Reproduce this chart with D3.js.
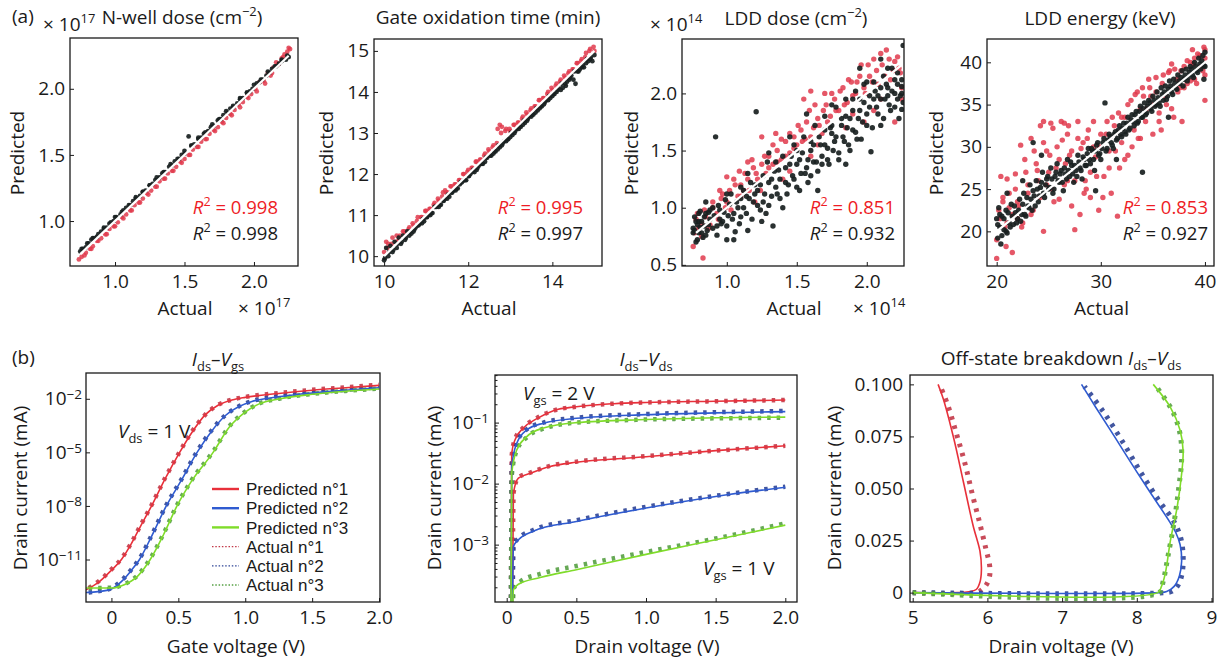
<!DOCTYPE html>
<html><head><meta charset="utf-8">
<script src="https://cdn.jsdelivr.net/npm/d3@7"></script>
<style>body{margin:0;background:#fff}svg{font-family:"Open Sans",sans-serif}</style>
</head><body>
<svg id="chart" width="1225" height="659"></svg>
<script>
// ---------------- DATA ----------------
// (a) N-well dose (x1e17): actual vs predicted
const nwellActK = [0.75,0.77,0.79,0.81,0.83,0.85,0.87,0.9,0.92,0.94,0.97,0.99,1.01,1.04,1.06,1.08,1.11,1.13,1.15,1.18,1.2,1.22,1.25,1.27,1.29,1.32,1.34,1.36,1.39,1.41,1.43,1.46,1.48,1.5,1.53,1.55,1.57,1.6,1.62,1.64,1.67,1.69,1.71,1.74,1.76,1.78,1.81,1.83,1.85,1.88,1.9,1.92,1.95,1.97,1.99,2.02,2.04,2.06,2.09,2.11,2.13,2.16,2.18,2.2,2.23,2.25,
  0.76,0.8,0.84,0.88,0.92,0.96,1.0,1.05,1.1,1.15,1.2,1.25,1.3,1.35,1.4,1.45,1.5,1.55,1.6,1.65,1.7,1.75,1.8,1.85,1.9,1.95,2.0,2.05,2.1,2.15,2.2,2.24];
const nwellPredK = [0.77,0.79,0.8,0.83,0.86,0.87,0.88,0.92,0.94,0.95,0.99,1.0,1.03,1.05,1.08,1.1,1.12,1.15,1.17,1.19,1.22,1.23,1.27,1.28,1.31,1.33,1.36,1.37,1.41,1.42,1.45,1.47,1.5,1.51,1.64,1.57,1.58,1.62,1.63,1.66,1.68,1.71,1.72,1.76,1.77,1.8,1.82,1.85,1.86,1.89,1.92,1.93,1.97,1.98,2.0,2.04,2.05,2.07,2.1,2.12,2.15,2.17,2.19,2.21,2.22,2.24,
  0.79,0.83,0.87,0.9,0.95,0.98,1.03,1.07,1.12,1.18,1.22,1.27,1.33,1.37,1.43,1.47,1.53,1.57,1.63,1.67,1.73,1.77,1.83,1.87,1.93,1.97,2.03,2.07,2.13,2.17,2.22,2.25];
const nwellActR = [0.74,0.76,0.79,0.82,0.84,0.87,0.9,0.93,0.96,0.99,1.02,1.05,1.08,1.11,1.14,1.17,1.2,1.23,1.26,1.29,1.32,1.35,1.38,1.41,1.44,1.47,1.5,1.53,1.56,1.59,1.62,1.65,1.68,1.71,1.74,1.77,1.8,1.83,1.86,1.89,1.92,1.95,1.98,2.01,2.04,2.07,2.1,2.12,2.14,2.16,2.18,2.2,2.22,2.24,2.26,
  0.78,0.83,0.88,0.94,1.0,1.06,1.12,1.18,1.24,1.3,1.36,1.42,1.48,1.54,1.6,1.66,1.72,1.78,1.84,1.9,1.96,2.02,2.08,2.13,2.17,2.21,2.25];
const nwellPredR = [0.71,0.73,0.76,0.79,0.81,0.85,0.87,0.9,0.94,0.96,0.99,1.03,1.05,1.08,1.12,1.14,1.17,1.21,1.23,1.26,1.3,1.32,1.36,1.38,1.41,1.45,1.47,1.5,1.54,1.56,1.6,1.62,1.66,1.69,1.71,1.75,1.78,1.81,1.84,1.88,1.9,1.94,1.96,2.0,2.05,2.06,2.12,2.1,2.16,2.2,2.19,2.23,2.26,2.28,2.3,
  0.74,0.79,0.85,0.9,0.96,1.02,1.08,1.14,1.2,1.26,1.32,1.38,1.44,1.5,1.56,1.62,1.68,1.74,1.8,1.86,1.93,1.98,2.04,2.12,2.18,2.24,2.31];
const nwellFit = [0.75, 2.25];

// (a) Gate oxidation time (min)
const goxActK = [10.0,10.05,10.1,10.15,10.2,10.25,10.3,10.35,10.4,10.5,10.55,10.6,10.7,10.8,10.9,11.0,11.1,11.2,11.3,11.4,11.5,11.6,11.7,11.8,11.9,12.0,12.1,12.2,12.3,12.4,12.5,12.6,12.7,12.8,12.9,13.0,13.1,13.2,13.3,13.4,13.5,13.6,13.7,13.8,13.9,14.0,14.1,14.2,14.3,14.4,14.5,14.55,14.6,14.7,14.8,14.9,14.95,15.0,
  10.45,10.65,10.75,10.85,10.95,11.05,11.15,11.25,11.35,11.45,11.55,11.65,11.75,11.85,11.95,12.05,12.15,12.25,12.35,12.45,12.55,12.65,12.75,12.85,12.95,13.05,13.15,13.25,13.35,13.45,13.55,13.65,13.75,13.85,13.95,14.05,14.15,14.25,14.35,14.45,14.65,14.75,14.85,
  10.02,10.12,10.22,10.32,10.42,10.52,10.62,10.72,10.82,10.92,11.02,11.12,11.22,11.32,11.42,11.52,11.62,11.72,11.82,11.92,12.02,12.12,12.22,12.32,12.42,12.52,12.62,12.72,12.82,12.92,13.02,13.12,13.22,13.32,13.42,13.52,13.62,13.72,13.82,13.92,14.02,14.12,14.22,14.32,14.42,14.52,14.62,14.72,14.82,14.92];
const goxPredK = [9.9,10.2,10.0,10.25,10.1,10.35,10.2,10.45,10.3,10.4,10.6,10.5,10.6,10.75,10.8,10.95,11.0,11.2,11.2,11.35,11.4,11.55,11.6,11.75,11.85,11.95,12.05,12.1,12.25,12.3,12.45,12.5,12.6,12.7,12.8,12.9,13.0,13.1,13.2,13.3,13.4,13.5,13.6,13.7,13.8,13.9,14.0,14.05,14.2,14.3,14.3,14.2,14.5,14.6,14.7,14.8,14.75,14.9,
  10.5,10.55,10.7,10.8,10.85,11.0,11.05,11.2,11.25,11.4,11.45,11.6,11.65,11.8,11.85,12.0,12.05,12.2,12.25,12.4,12.45,12.55,12.65,12.8,12.85,12.95,13.1,13.15,13.25,13.4,13.45,13.55,13.65,13.8,13.85,13.95,14.1,14.1,14.25,14.4,14.55,14.6,14.75,
  9.95,10.1,10.15,10.3,10.35,10.45,10.6,10.65,10.75,10.9,10.95,11.05,11.2,11.25,11.35,11.5,11.55,11.65,11.8,11.85,11.95,12.1,12.15,12.25,12.4,12.45,12.55,12.7,12.75,12.85,13.0,13.05,13.15,13.3,13.35,13.45,13.6,13.65,13.75,13.9,13.95,14.05,14.2,14.15,14.35,14.5,14.5,14.65,14.8,14.85];
const goxActR = [10.0,10.05,10.1,10.2,10.3,10.35,10.45,10.5,10.6,10.7,10.8,10.9,11.0,11.1,11.2,11.3,11.4,11.45,11.5,11.6,11.7,11.8,11.9,12.0,12.1,12.2,12.3,12.4,12.5,12.6,12.7,12.75,12.8,12.9,13.0,13.1,13.2,13.3,13.4,13.5,13.6,13.7,13.8,13.9,14.0,14.1,14.2,14.3,14.4,14.5,14.6,14.7,14.8,14.9,15.0,
  10.08,10.18,10.28,10.38,10.48,10.58,10.68,10.78,10.88,10.98,11.08,11.18,11.28,11.38,11.48,11.58,11.68,11.78,11.88,11.98,12.08,12.18,12.28,12.38,12.48,12.58,12.68,12.78,12.88,12.98,13.08,13.18,13.28,13.38,13.48,13.58,13.68,13.78,13.88,13.98,14.08,14.18,14.28,14.38,14.48,14.58,14.68,14.78,14.88,14.98];
const goxPredR = [10.1,10.35,10.3,10.45,10.5,10.4,10.6,10.55,10.7,10.75,10.95,10.95,11.1,11.15,11.3,11.35,11.55,11.6,11.55,11.7,11.75,11.85,12.0,12.1,12.15,12.3,12.35,12.5,12.55,12.7,13.1,13.2,13.15,13.1,13.05,13.2,13.25,13.4,13.45,13.6,13.65,13.8,13.85,14.0,14.05,14.2,14.3,14.35,14.5,14.55,14.7,14.8,14.95,15.05,15.0,
  10.2,10.3,10.35,10.5,10.6,10.65,10.8,10.85,10.95,11.1,11.15,11.25,11.4,11.45,11.55,11.7,11.75,11.85,12.0,12.05,12.15,12.3,12.35,12.45,12.6,12.65,12.75,13.0,13.05,13.1,13.2,13.25,13.35,13.5,13.55,13.65,13.8,13.85,13.95,14.1,14.15,14.25,14.4,14.45,14.55,14.7,14.75,14.85,15.0,15.1];
const goxFit = [10, 15];

// (a) LDD dose (x1e14): [actual, predicted]
const lddDoseK = [[0.76,0.82],[0.77,0.92],[0.78,0.70],[0.79,0.85],[0.80,0.78],[0.81,0.97],[0.82,0.88],[0.83,0.74],[0.85,0.95],[0.86,0.80],[0.88,0.90],[0.9,1.0],[0.92,1.62],[0.93,0.84],[0.95,0.98],[0.97,0.88],[0.99,1.07],[1.0,0.72],[1.01,0.93],[1.03,1.12],[1.05,0.95],[1.07,1.05],[1.09,0.86],[1.1,1.18],[1.12,1.0],[1.14,1.10],[1.15,0.80],[1.17,1.22],[1.19,1.05],[1.21,1.84],[1.22,1.15],[1.24,0.98],[1.26,1.28],[1.27,1.12],[1.29,1.40],[1.3,1.02],[1.32,1.25],[1.33,0.84],[1.35,1.18],[1.37,1.33],[1.38,1.08],[1.4,1.45],[1.42,1.22],[1.43,1.12],[1.45,1.38],[1.47,1.28],[1.48,1.55],[1.5,1.18],[1.52,1.42],[1.53,1.30],[1.55,1.62],[1.57,1.35],[1.58,1.22],[1.6,1.50],[1.62,1.40],[1.63,1.72],[1.65,1.32],[1.67,1.55],[1.68,1.45],[1.7,1.80],[1.72,1.52],[1.73,1.38],[1.75,1.65],[1.77,1.58],[1.78,1.88],[1.8,1.48],[1.82,1.72],[1.83,1.62],[1.85,1.95],[1.87,1.55],[1.88,1.78],[1.9,1.68],[1.92,2.02],[1.93,1.60],[1.95,1.85],[1.97,1.75],[1.98,2.08],[2.0,1.82],[2.02,1.98],[2.03,1.49],[2.05,2.10],[2.07,1.88],[2.08,1.98],[2.1,1.72],[2.12,2.15],[2.13,1.95],[2.15,2.05],[2.17,1.85],[2.18,2.22],[2.2,2.0],[2.22,2.08],[2.23,1.78],[2.25,2.12],[2.26,1.92],[2.26,2.42],[2.25,2.0],[0.77,0.8],[0.8,0.88],[0.84,0.84],[0.87,0.96],[2.05,1.95],[2.1,2.05],[2.15,1.98],[2.2,2.12],[2.22,1.95],[1.95,1.95],[1.85,1.8],[1.75,1.72],[1.6,1.58],[1.1,1.08],[1.2,1.2],[0.95,0.9],
  [0.76,0.78],[0.78,0.88],[0.79,0.72],[0.81,0.83],[0.82,0.78],[0.84,0.92],[0.85,0.76],[0.87,0.85],[0.88,0.98],[0.9,0.82],[0.91,0.93],[0.93,0.76],[0.94,1.02],[0.96,0.86],[0.98,0.96],[1.0,0.84],[1.02,1.03],[1.04,0.9],[1.06,0.79],[1.08,1.0],[1.1,0.92],[1.12,1.15],[1.14,0.95],[1.16,1.08],[1.18,0.9],[1.2,1.12],[1.22,1.02],[1.24,1.2],[1.26,1.05],[1.28,0.95],[1.3,1.22],[1.32,1.1],[1.34,1.32],[1.36,1.12],[1.38,1.25],[1.4,1.0],[1.42,1.35],[1.44,1.2],[1.46,1.45],[1.48,1.25],[1.5,1.38],[1.52,1.15],[1.54,1.48],[1.56,1.3],[1.58,1.42],[1.6,1.28],[1.62,1.55],[1.64,1.4],[1.66,1.62],[1.68,1.38],[1.7,1.55],[1.72,1.42],[1.74,1.7],[1.76,1.5],[1.78,1.62],[1.8,1.42],[1.82,1.78],[1.84,1.58],[1.86,1.7],[1.88,1.5],[1.9,1.85],[1.92,1.66],[1.94,1.78],[1.96,1.6],[1.98,1.92],[2.0,1.72],[2.02,1.88],[2.04,1.7],[2.06,2.02],[2.08,1.82],[2.1,1.95],[2.12,1.78],[2.14,2.08],[2.16,1.9],[2.18,2.02],[2.2,1.88],[2.22,2.18],[2.24,1.98],[2.25,2.06],[2.25,1.86],[1.57,1.82],[1.45,1.62],[1.3,1.48],[1.15,1.3],[1.0,1.12],[0.85,1.05],[1.95,2.22],[2.1,2.3],[1.75,1.9],[1.65,1.15],[1.85,1.38],[1.25,0.88],[1.05,0.72],[2.0,2.1],[2.15,2.22],[0.8,0.95],[1.35,1.4],[1.5,1.5],[1.7,1.68],[1.9,1.95]];
const lddDoseR = [[0.76,0.66],[0.78,0.9],[0.8,0.82],[0.83,0.56],[0.85,0.92],[0.88,0.85],[0.9,1.0],[0.93,0.95],[0.96,1.08],[0.99,1.0],[1.02,1.15],[1.05,1.25],[1.08,1.1],[1.1,1.2],[1.13,1.3],[1.16,1.15],[1.19,1.35],[1.22,1.25],[1.25,1.38],[1.28,1.3],[1.3,1.45],[1.33,1.38],[1.36,1.5],[1.39,1.42],[1.42,1.58],[1.45,1.48],[1.48,1.62],[1.5,1.55],[1.53,1.68],[1.56,1.6],[1.59,1.85],[1.62,1.7],[1.65,1.78],[1.68,1.65],[1.71,1.9],[1.74,1.8],[1.77,1.95],[1.8,1.85],[1.83,2.05],[1.86,1.92],[1.89,2.1],[1.92,2.0],[1.95,2.15],[1.98,2.05],[2.01,2.25],[2.04,2.1],[2.07,2.2],[2.1,2.35],[2.13,2.15],[2.16,2.3],[2.19,2.2],[2.22,2.32],[2.24,2.18],[2.25,2.05],[1.98,1.75],[1.4,1.25],[1.2,1.05],[1.6,1.45],[1.0,1.27],[1.35,1.65],[2.2,1.75],[0.82,0.75],[1.15,1.4],[1.7,2.0],[1.9,1.82],[2.1,1.95],
  [0.77,0.78],[0.79,0.95],[0.82,0.86],[0.84,0.98],[0.87,0.82],[0.9,1.05],[0.94,0.9],[0.97,1.12],[1.0,1.05],[1.03,0.98],[1.06,1.2],[1.09,1.32],[1.12,1.15],[1.15,1.25],[1.18,1.42],[1.21,1.3],[1.24,1.15],[1.27,1.45],[1.3,1.35],[1.33,1.55],[1.36,1.4],[1.39,1.6],[1.42,1.45],[1.45,1.65],[1.48,1.52],[1.51,1.72],[1.54,1.58],[1.57,1.75],[1.6,1.62],[1.63,1.9],[1.66,1.72],[1.69,1.85],[1.72,1.75],[1.75,2.0],[1.78,1.85],[1.81,2.02],[1.84,1.9],[1.87,2.12],[1.9,1.98],[1.93,2.1],[1.96,2.25],[1.99,2.0],[2.02,2.15],[2.05,2.3],[2.08,2.08],[2.11,2.25],[2.14,2.38],[2.17,2.12],[2.2,2.28],[2.23,2.22],[1.25,1.62],[1.55,1.95],[1.45,1.32],[1.65,1.55],[1.85,1.7],[2.05,1.85],[2.25,1.95],[1.1,1.1],[0.95,1.15],[1.6,2.02]];
const lddDoseFit = [0.78, 2.25];

// (a) LDD energy (keV): [actual, predicted]
const lddEnK = [[20.0,21.5],[20.1,19.2],[20.2,22.8],[20.3,20.5],[20.4,18.5],[20.5,21.8],[20.7,20.2],[20.9,22.5],[21.0,19.8],[21.2,21.0],[21.4,23.2],[21.6,20.8],[21.8,22.2],[22.0,21.5],[22.2,23.8],[22.4,22.0],[22.6,24.5],[22.8,21.8],[23.0,23.0],[23.2,25.5],[23.4,22.5],[23.6,24.2],[23.8,26.0],[24.0,23.5],[24.2,25.2],[24.4,27.0],[24.6,24.0],[24.8,26.2],[25.0,25.0],[25.2,27.5],[25.4,24.5],[25.6,26.5],[25.8,28.0],[26.0,25.8],[26.2,27.2],[26.4,24.8],[26.6,26.8],[26.8,28.5],[27.0,26.5],[27.2,27.8],[27.4,25.8],[27.6,27.2],[27.8,29.0],[28.0,27.5],[28.2,26.2],[28.4,28.5],[28.6,27.8],[28.8,29.8],[29.0,28.0],[29.2,29.5],[29.4,27.2],[29.6,30.2],[29.8,29.0],[30.0,28.5],[30.2,30.5],[30.4,35.2],[30.6,29.8],[30.8,31.5],[31.0,30.5],[31.2,29.8],[31.4,31.8],[31.6,31.0],[31.8,32.5],[32.0,31.2],[32.2,32.8],[32.4,31.5],[32.6,33.5],[32.8,32.2],[33.0,33.8],[33.2,32.5],[33.4,34.2],[33.6,33.0],[33.8,34.8],[34.0,27.0],[34.0,33.5],[34.2,35.2],[34.4,34.0],[34.6,35.5],[34.8,34.5],[35.0,36.0],[35.2,34.8],[35.4,36.5],[35.6,35.2],[35.8,37.0],[36.0,35.5],[36.2,37.2],[36.4,36.0],[36.6,37.8],[36.8,36.5],[37.0,38.0],[37.2,37.0],[37.4,38.5],[37.6,37.5],[37.8,39.0],[38.0,38.0],[38.2,39.2],[38.4,38.2],[38.6,39.5],[38.8,38.5],[39.0,40.0],[39.2,39.0],[39.4,40.5],[39.6,39.2],[39.8,40.8],[40.0,39.5],[40.0,41.2],[39.9,38.0],[23.5,30.5],[24.3,29.0],[22.5,26.0],[29.5,24.8],[21.0,24.5],[31.5,28.5],[36.5,33.5],
  [20.1,20.8],[20.3,22.0],[20.5,19.5],[20.7,21.5],[20.9,20.0],[21.1,22.2],[21.3,20.5],[21.5,21.8],[21.7,23.0],[21.9,21.0],[22.1,22.5],[22.3,21.2],[22.5,23.2],[22.7,22.0],[22.9,24.0],[23.1,22.8],[23.3,23.8],[23.5,24.8],[23.7,23.0],[23.9,25.0],[24.1,24.2],[24.3,25.8],[24.5,24.5],[24.7,25.5],[24.9,26.5],[25.1,25.2],[25.3,26.2],[25.5,25.0],[25.7,27.0],[25.9,26.0],[26.1,26.8],[26.3,25.8],[26.5,27.5],[26.7,26.2],[26.9,27.2],[27.1,28.2],[27.3,26.8],[27.5,27.8],[27.7,26.5],[27.9,28.2],[28.1,27.2],[28.3,28.8],[28.5,27.8],[28.7,29.2],[28.9,28.5],[29.1,29.8],[29.3,28.5],[29.5,29.5],[29.7,30.5],[29.9,29.2],[30.1,29.8],[30.3,31.0],[30.5,29.5],[30.7,30.8],[30.9,31.2],[31.1,30.2],[31.3,31.5],[31.5,30.8],[31.7,32.0],[31.9,31.5],[32.1,32.2],[32.3,31.8],[32.5,32.8],[32.7,32.0],[32.9,33.2],[33.1,33.0],[33.3,33.8],[33.5,32.8],[33.7,34.2],[33.9,33.5],[34.1,34.5],[34.3,33.8],[34.5,34.8],[34.7,35.2],[34.9,34.2],[35.1,35.5],[35.3,35.0],[35.5,35.8],[35.7,34.8],[35.9,36.2],[36.1,36.5],[36.3,35.6],[36.5,36.8],[36.7,37.2],[36.9,36.2],[37.1,37.5],[37.3,36.8],[37.5,37.8],[37.7,38.2],[37.9,37.2],[38.1,38.5],[38.3,37.8],[38.5,38.8],[38.7,39.2],[38.9,38.2],[39.1,39.5],[39.3,38.8],[39.5,39.8],[39.7,40.2],[39.9,39.6]];
const lddEnR = [[20.0,16.8],[20.2,22.5],[20.4,26.5],[20.6,24.0],[20.8,20.5],[21.0,26.2],[21.2,22.8],[21.5,17.5],[21.8,25.0],[22.0,23.5],[22.3,30.2],[22.5,21.0],[22.8,27.0],[23.0,24.5],[23.3,31.0],[23.5,22.5],[23.8,28.0],[24.0,26.0],[24.2,32.5],[24.5,20.0],[24.8,29.5],[25.0,27.0],[25.2,32.8],[25.5,23.5],[25.8,30.0],[26.0,28.5],[26.2,33.0],[26.5,25.5],[26.8,31.5],[27.0,29.0],[27.2,23.0],[27.5,20.2],[27.8,31.0],[28.0,22.0],[28.3,30.5],[28.5,26.0],[28.8,32.0],[29.0,24.0],[29.3,30.0],[29.5,28.8],[29.8,22.5],[30.0,31.5],[30.3,26.5],[30.6,33.0],[31.0,24.5],[31.3,32.5],[31.6,21.8],[32.0,33.5],[32.3,28.5],[32.6,35.0],[33.0,30.0],[33.3,36.2],[33.6,31.0],[34.0,37.0],[34.3,33.0],[34.6,38.0],[35.0,31.5],[35.3,36.5],[35.6,34.0],[36.0,38.5],[36.3,35.0],[36.6,39.0],[37.0,33.5],[37.3,38.0],[37.6,37.0],[38.0,39.5],[38.3,37.5],[38.6,40.0],[39.0,38.0],[39.3,41.0],[39.6,39.5],[39.9,41.8],[40.0,35.5],[40.0,40.5],[37.8,33.0],[35.8,32.0],[33.8,34.5],[31.8,27.5],[30.8,29.5],[26.8,26.0],[25.3,25.0],[22.0,21.5],[21.0,21.0],[24.5,33.0],[26.5,32.8],[38.8,41.5],[36.8,39.8],[28.6,25.0],[34.8,36.0],
  [20.0,19.0],[20.3,21.5],[20.6,23.5],[20.9,18.2],[21.2,24.5],[21.5,22.0],[21.8,26.8],[22.1,23.0],[22.4,20.5],[22.7,28.5],[23.0,25.5],[23.3,22.0],[23.6,29.5],[23.9,27.2],[24.2,24.0],[24.5,30.5],[24.8,25.5],[25.1,29.0],[25.4,32.2],[25.7,27.5],[26.0,23.8],[26.3,30.8],[26.6,28.0],[26.9,32.5],[27.2,29.5],[27.5,26.0],[27.8,33.0],[28.1,29.8],[28.4,24.5],[28.7,31.0],[29.0,27.0],[29.3,33.0],[29.6,26.5],[29.9,30.0],[30.2,24.0],[30.5,31.5],[30.8,27.5],[31.1,33.5],[31.4,29.5],[31.7,34.0],[32.0,30.5],[32.3,33.5],[32.6,29.0],[32.9,35.5],[33.2,32.0],[33.5,36.5],[33.8,31.0],[34.1,36.0],[34.4,34.5],[34.7,37.0],[35.0,35.0],[35.3,38.2],[35.6,33.0],[35.9,37.5],[36.2,36.0],[36.5,38.8],[36.8,34.5],[37.1,39.2],[37.4,36.5],[37.7,39.0],[38.0,37.0],[38.3,40.2],[38.6,37.8],[38.9,39.8],[39.2,37.5],[39.5,40.8],[39.8,39.0],[40.0,41.5],[40.0,38.5],[39.0,40.5]];
const lddEnFit = [20, 40.1];

// (b) Ids-Vgs, Vds = 1 V: [Vgs (V), log10 Ids (mA)]
const idvgPred1 = [[-0.19,-12.7],[-0.1,-12.3],[0,-11.6],[0.075,-11.0],[0.15,-10.1],[0.22,-9.1],[0.3,-8.0],[0.4,-6.5],[0.51,-5.0],[0.6,-3.9],[0.7,-2.9],[0.8,-2.35],[0.91,-2.05],[1.0,-1.92],[1.25,-1.7],[1.5,-1.52],[1.75,-1.38],[2.0,-1.25]];
const idvgPred2 = [[-0.19,-12.85],[-0.1,-12.8],[0,-12.65],[0.08,-12.2],[0.15,-11.6],[0.21,-11.0],[0.3,-9.7],[0.41,-8.0],[0.52,-6.6],[0.64,-5.0],[0.75,-3.8],[0.85,-2.95],[0.95,-2.45],[1.05,-2.15],[1.16,-1.98],[1.4,-1.75],[1.7,-1.55],[2.0,-1.38]];
const idvgPred3 = [[-0.19,-12.6],[0,-12.6],[0.1,-12.4],[0.2,-11.9],[0.29,-11.0],[0.39,-9.6],[0.49,-8.0],[0.6,-6.6],[0.76,-5.0],[0.88,-3.6],[1.0,-2.75],[1.1,-2.3],[1.26,-2.0],[1.5,-1.75],[1.75,-1.58],[2.0,-1.45]];
const idvgAct1 = [[-0.17,-12.6],[-0.1,-12.25],[0,-11.55],[0.08,-10.9],[0.15,-10.05],[0.22,-9.05],[0.3,-7.95],[0.4,-6.45],[0.5,-5.1],[0.6,-3.85],[0.7,-2.9],[0.8,-2.33],[0.9,-2.05],[1.0,-1.9],[1.25,-1.68],[1.5,-1.5],[1.75,-1.36],[2.0,-1.22]];
const idvgAct2 = [[-0.17,-12.85],[-0.1,-12.78],[0,-12.6],[0.08,-12.15],[0.15,-11.55],[0.21,-10.95],[0.3,-9.65],[0.41,-7.95],[0.52,-6.55],[0.64,-4.95],[0.75,-3.75],[0.85,-2.93],[0.95,-2.43],[1.05,-2.13],[1.16,-1.96],[1.4,-1.73],[1.7,-1.53],[2.0,-1.36]];
const idvgAct3 = [[-0.17,-12.6],[0,-12.58],[0.1,-12.38],[0.2,-11.85],[0.29,-10.95],[0.39,-9.55],[0.49,-7.95],[0.6,-6.55],[0.76,-4.95],[0.88,-3.55],[1.0,-2.72],[1.1,-2.28],[1.26,-1.98],[1.5,-1.73],[1.75,-1.56],[2.0,-1.43]];

// (b) Ids-Vds: [Vds (V), log10 Ids (mA)] ; "Hi" = Vgs 2 V, "Lo" = Vgs 1 V
const idvdPredHi1 = [[0.03,-4.5],[0.036,-1.5],[0.06,-1.28],[0.12,-1.09],[0.22,-0.93],[0.34,-0.8],[0.5,-0.74],[0.77,-0.69],[1.0,-0.67],[1.5,-0.65],[2.0,-0.63]];
const idvdPredHi2 = [[0.03,-4.5],[0.036,-1.72],[0.072,-1.34],[0.144,-1.12],[0.263,-1.01],[0.5,-0.93],[1.0,-0.87],[1.5,-0.84],[2.0,-0.82]];
const idvdPredHi3 = [[0.03,-4.5],[0.036,-1.83],[0.072,-1.45],[0.144,-1.23],[0.263,-1.09],[0.5,-1.0],[1.0,-0.95],[1.5,-0.92],[2.0,-0.91]];
const idvdPredLo1 = [[0.04,-4.5],[0.048,-2.16],[0.084,-1.91],[0.17,-1.83],[0.31,-1.72],[0.5,-1.65],[1.0,-1.56],[1.5,-1.46],[2.0,-1.38]];
const idvdPredLo2 = [[0.04,-4.5],[0.048,-3.03],[0.084,-2.92],[0.19,-2.78],[0.5,-2.62],[1.0,-2.4],[1.5,-2.21],[2.0,-2.06]];
const idvdPredLo3 = [[0.04,-4.5],[0.048,-3.74],[0.084,-3.65],[0.24,-3.54],[0.5,-3.41],[1.0,-3.16],[1.5,-2.92],[2.0,-2.68]];
const idvdActHi1 = [[0.03,-4.5],[0.037,-1.52],[0.06,-1.27],[0.12,-1.08],[0.22,-0.92],[0.34,-0.8],[0.5,-0.74],[0.77,-0.69],[1.0,-0.67],[1.5,-0.65],[2.0,-0.63]];
const idvdActHi2 = [[0.03,-4.5],[0.037,-1.7],[0.072,-1.33],[0.144,-1.11],[0.263,-1.0],[0.5,-0.92],[1.0,-0.86],[1.5,-0.83],[2.0,-0.81]];
const idvdActHi3 = [[0.03,-4.5],[0.037,-1.85],[0.072,-1.46],[0.144,-1.24],[0.263,-1.1],[0.5,-1.0],[1.0,-0.95],[1.5,-0.93],[2.0,-0.92]];
const idvdActLo1 = [[0.04,-4.5],[0.05,-2.14],[0.084,-1.9],[0.17,-1.82],[0.31,-1.71],[0.5,-1.64],[1.0,-1.55],[1.5,-1.46],[2.0,-1.38]];
const idvdActLo2 = [[0.04,-4.5],[0.05,-3.0],[0.084,-2.9],[0.19,-2.76],[0.5,-2.6],[1.0,-2.38],[1.5,-2.2],[2.0,-2.05]];
const idvdActLo3 = [[0.04,-4.5],[0.05,-3.72],[0.1,-3.6],[0.24,-3.48],[0.5,-3.35],[1.0,-3.12],[1.5,-2.9],[2.0,-2.65]];

// (b) Off-state breakdown: [Vds (V), Ids (mA)]
const bdPred1 = [[5.0,0],[5.6,0],[5.75,0.0004],[5.85,0.0015],[5.9,0.005],[5.92,0.011],[5.9,0.02],[5.81,0.032],[5.68,0.053],[5.55,0.074],[5.41,0.093],[5.34,0.1]];
const bdPred2 = [[5.0,0],[8.3,0],[8.4,0.0005],[8.5,0.003],[8.57,0.008],[8.6,0.015],[8.58,0.023],[8.52,0.029],[8.44,0.034],[8.2,0.047],[8.0,0.058],[7.7,0.075],[7.45,0.089],[7.26,0.1]];
const bdPred3 = [[5.0,0],[8.28,0],[8.33,0.003],[8.38,0.009],[8.45,0.025],[8.54,0.041],[8.6,0.057],[8.62,0.068],[8.58,0.078],[8.45,0.089],[8.22,0.1]];
const bdAct1 = [[5.0,0],[5.85,0],[5.93,0.0015],[5.99,0.004],[6.03,0.008],[6.03,0.013],[5.98,0.021],[5.9,0.033],[5.8,0.047],[5.7,0.062],[5.58,0.077],[5.47,0.09],[5.36,0.1]];
const bdAct2 = [[5.0,0],[8.38,0],[8.48,0.0008],[8.56,0.004],[8.61,0.01],[8.62,0.018],[8.59,0.026],[8.5,0.034],[8.3,0.044],[8.05,0.058],[7.8,0.073],[7.55,0.087],[7.3,0.099]];
const bdAct3 = [[5.0,0],[8.3,0],[8.35,0.005],[8.42,0.018],[8.5,0.034],[8.56,0.05],[8.6,0.064],[8.58,0.076],[8.48,0.087],[8.3,0.097],[8.24,0.1]];

const legendLabels = ['Predicted n°1','Predicted n°2','Predicted n°3','Actual n°1','Actual n°2','Actual n°3'];
const r2Red = ['0.998','0.995','0.851','0.853'];
const r2Black = ['0.998','0.997','0.932','0.927'];

// ---------------- DRAWING ----------------
const svg = d3.select('#chart');
const INK = '#1a1a1a';
const FS = 19;
const PRED = ['#e8303a','#2f5bd0','#7fdc2a'];
const ACT = ['#c23848','#2e4496','#56a044'];

function rich(parent, x, y, parts, opt = {}) {
  const size = opt.size || FS;
  const t = parent.append('text').attr('x', x).attr('y', y)
    .attr('text-anchor', opt.anchor || 'start').attr('font-size', size)
    .attr('fill', opt.color || INK);
  if (opt.rotate) t.attr('transform', `rotate(-90,${x},${y})`);
  let shift = 0;
  parts.forEach(p => {
    if (typeof p === 'string') p = {t: p};
    const target = p.sub ? 0.28 * size : p.sup ? -0.42 * size : 0;
    const s = t.append('tspan').attr('dy', target - shift).text(p.t);
    shift = target;
    if (p.sub || p.sup) s.attr('font-size', size * 0.68);
    if (p.i) s.attr('font-style', 'italic');
  });
  return t;
}

function makePanel(id, box, xd, yd, isLog) {
  const [x0, y0, x1, y1] = box;
  const w = x1 - x0, h = y1 - y0;
  const g = svg.append('g').attr('transform', `translate(${x0},${y0})`);
  const x = d3.scaleLinear().domain(xd).range([0, w]);
  const y = (isLog ? d3.scaleLog() : d3.scaleLinear()).domain(yd).range([h, 0]);
  g.append('clipPath').attr('id', id).append('rect').attr('width', w).attr('height', h);
  const plot = g.append('g').attr('clip-path', `url(#${id})`);
  return {g, plot, x, y, w, h, isLog};
}

function styleAxis(a) {
  a.attr('font-family', null).attr('font-size', null);
  a.select('.domain').remove();
  a.selectAll('text').attr('font-size', FS).attr('fill', INK);
  a.selectAll('line').attr('stroke', INK).attr('stroke-width', 1);
}

function finishAxes(P, o) {
  const xa = P.g.append('g').attr('transform', `translate(0,${P.h})`)
    .call(d3.axisBottom(P.x).tickValues(o.xt).tickSize(-4).tickPadding(o.xpad).tickFormat(o.xf));
  styleAxis(xa);
  const ya = P.g.append('g')
    .call(d3.axisLeft(P.y).tickValues(o.yt).tickSize(-4).tickPadding(o.ypad).tickFormat(P.isLog ? () => '' : o.yf));
  styleAxis(ya);
  if (P.isLog) {
    ya.selectAll('.tick text').each(function(d) {
      const e = Math.round(Math.log10(d));
      const t = d3.select(this);
      t.append('tspan').text('10');
      t.append('tspan').attr('dy', '-0.45em').attr('font-size', 13.5).text('−' + Math.abs(e));
    });
  }
  if (o.minor) {
    const ma = P.g.append('g').call(d3.axisLeft(P.y).tickValues(o.minor).tickSize(-2.5).tickFormat(() => ''));
    styleAxis(ma);
  }
  P.g.append('rect').attr('width', P.w).attr('height', P.h).attr('fill', 'none')
    .attr('stroke', INK).attr('stroke-width', 1.3);
}

function scatter(P, pts, color, r, op) {
  P.plot.append('g').selectAll('circle').data(pts).join('circle')
    .attr('cx', d => P.x(d[0])).attr('cy', d => P.y(d[1])).attr('r', r)
    .attr('fill', color).attr('fill-opacity', op);
}
function fitLine(P, ends) {
  P.plot.append('line').attr('x1', P.x(ends[0])).attr('y1', P.y(ends[0]))
    .attr('x2', P.x(ends[1])).attr('y2', P.y(ends[1]))
    .attr('stroke', '#fff').attr('stroke-width', 2.2);
}
function curve(P, pts, color, width, dash, ctype, op) {
  const line = d3.line().x(d => P.x(d[0]))
    .y(d => P.y(P.isLog ? Math.pow(10, d[1]) : d[1])).curve(ctype);
  P.plot.append('path').attr('d', line(pts)).attr('fill', 'none').attr('stroke', color)
    .attr('stroke-width', width).attr('stroke-dasharray', dash || null)
    .attr('stroke-opacity', op || 1);
}

// ---- Row (a) ----
const f1 = d3.format('.1f'), fi = d3.format('d');
const topCfg = [
  {id:'a1', box:[70,38,298,266], xd:[0.676,2.317], yd:[0.66,2.384], xt:[1,1.5,2], yt:[1,1.5,2], xf:f1, yf:f1,
   K:d3.zip(nwellActK,nwellPredK), R:d3.zip(nwellActR,nwellPredR), fit:nwellFit, r:2.4, rx:278, lx:24},
  {id:'a2', box:[374,39,602,266], xd:[9.76,15.18], yd:[9.76,15.29], xt:[10,12,14], yt:[10,11,12,13,14,15], xf:fi, yf:fi,
   K:d3.zip(goxActK,goxPredK), R:d3.zip(goxActR,goxPredR), fit:goxFit, r:2.4, rx:583, lx:333},
  {id:'a3', box:[682,39,904,266], xd:[0.68,2.266], yd:[0.49,2.476], xt:[1,1.5,2], yt:[0.5,1,1.5,2], xf:f1, yf:f1,
   K:lddDoseK, R:lddDoseR, fit:lddDoseFit, r:2.7, rx:895, lx:638},
  {id:'a4', box:[987,39,1214,266], xd:[19.07,40.87], yd:[15.9,42.76], xt:[20,30,40], yt:[20,25,30,35,40], xf:fi, yf:fi,
   K:lddEnK, R:lddEnR, fit:lddEnFit, r:2.7, rx:1208, lx:943}
];
topCfg.forEach((c, i) => {
  const P = makePanel(c.id, c.box, c.xd, c.yd, false);
  scatter(P, c.R, '#e03a4c', c.r, 0.85);
  scatter(P, c.K, '#18201f', c.r, 0.92);
  fitLine(P, c.fit);
  finishAxes(P, {xt:c.xt, yt:c.yt, xf:c.xf, yf:c.yf, xpad:9, ypad:5});
  rich(svg, c.rx, 214, [{t:'R', i:true}, {t:'2', sup:true}, ' = ' + r2Red[i]], {anchor:'end', color:'#ee1c25', size:18.5});
  rich(svg, c.rx, 240, [{t:'R', i:true}, {t:'2', sup:true}, ' = ' + r2Black[i]], {anchor:'end', size:18.5});
  rich(svg, c.lx, 153, ['Predicted'], {anchor:'middle', rotate:true});
  const cx = (c.box[0] + c.box[2]) / 2;
  rich(svg, cx + 1, 315, ['Actual'], {anchor:'middle'});
});
rich(svg, 12, 23, ['(a)']);
rich(svg, 43, 31, ['× 10', {t:'17', sup:true}]);
rich(svg, 182, 24, ['N-well dose (cm', {t:'−2', sup:true}, ')'], {anchor:'middle'});
rich(svg, 238, 315, ['× 10', {t:'17', sup:true}]);
rich(svg, 488, 24, ['Gate oxidation time (min)'], {anchor:'middle'});
rich(svg, 650, 31, ['× 10', {t:'14', sup:true}]);
rich(svg, 796, 25, ['LDD dose (cm', {t:'−2', sup:true}, ')'], {anchor:'middle'});
rich(svg, 853, 315, ['× 10', {t:'14', sup:true}]);
rich(svg, 1100, 25, ['LDD energy (keV)'], {anchor:'middle'});

// ---- Row (b) ----
const DASH = '3.5,6';
const XLAB_Y = 653;
// b1: Ids-Vgs
const B1 = makePanel('b1', [86,373,380,602], [-0.19,2.007], [Math.pow(10,-13.38), Math.pow(10,-0.556)], true);
[idvgAct1, idvgAct2, idvgAct3].forEach((d, k) => curve(B1, d, ACT[k], 4.5, DASH, d3.curveMonotoneX, 0.9));
[idvgPred1, idvgPred2, idvgPred3].forEach((d, k) => curve(B1, d, PRED[k], 1.6, null, d3.curveMonotoneX));
finishAxes(B1, {xt:[0,0.5,1,1.5,2], yt:[1e-2,1e-5,1e-8,1e-11], xf:v => v === 0 ? '0' : d3.format('.1f')(v), xpad:9, ypad:4});
// legend (compact-metric font so rows do not collide)
const leg = svg.append('g');
legendLabels.forEach((lab, k) => {
  const yy = 489 + k * 19.2;
  const col = k < 3 ? PRED[k] : ACT[k - 3];
  leg.append('line').attr('x1', 212).attr('x2', 239).attr('y1', yy).attr('y2', yy)
    .attr('stroke', col).attr('stroke-width', k < 3 ? 2.4 : 1.3)
    .attr('stroke-dasharray', k < 3 ? null : '1.5,1.8');
  leg.append('text').attr('x', 246).attr('y', yy).attr('dy', '0.36em')
    .attr('font-family', '"Liberation Sans", Arial, sans-serif')
    .attr('font-size', 17).attr('fill', INK).text(lab);
});
rich(svg, 118, 438, [{t:'V', i:true}, {t:'ds', sub:true}, ' = 1 V']);
rich(svg, 218, 366, [{t:'I', i:true}, {t:'ds', sub:true}, '–', {t:'V', i:true}, {t:'gs', sub:true}], {anchor:'middle'});
rich(svg, 27, 488, ['Drain current (mA)'], {anchor:'middle', rotate:true});
rich(svg, 236, XLAB_Y, ['Gate voltage (V)'], {anchor:'middle'});
rich(svg, 12, 364, ['(b)']);

// b2: Ids-Vds
const B2 = makePanel('b2', [495,375,797,602], [-0.084,2.084], [Math.pow(10,-3.94), Math.pow(10,-0.22)], true);
const hiAct = [idvdActHi1, idvdActHi2, idvdActHi3], loAct = [idvdActLo1, idvdActLo2, idvdActLo3];
const hiPred = [idvdPredHi1, idvdPredHi2, idvdPredHi3], loPred = [idvdPredLo1, idvdPredLo2, idvdPredLo3];
[0,1,2].forEach(k => {
  curve(B2, loAct[k], ACT[k], 4.5, DASH, d3.curveMonotoneX, 0.9);
  curve(B2, hiAct[k], ACT[k], 4.5, DASH, d3.curveMonotoneX, 0.9);
});
[0,1,2].forEach(k => {
  curve(B2, loPred[k], PRED[k], 1.6, null, d3.curveMonotoneX);
  curve(B2, hiPred[k], PRED[k], 1.6, null, d3.curveMonotoneX);
});
const minorB2 = [];
[-4,-3,-2,-1].forEach(e => { for (let m = 2; m <= 9; m++) { const v = m * Math.pow(10, e); if (v > B2.y.domain()[0] && v < B2.y.domain()[1]) minorB2.push(v); } });
finishAxes(B2, {xt:[0,0.5,1,1.5,2], yt:[1e-1,1e-2,1e-3], xf:v => v === 0 ? '0' : d3.format('.1f')(v), xpad:9, ypad:6, minor:minorB2});
rich(svg, 523, 400, [{t:'V', i:true}, {t:'gs', sub:true}, ' = 2 V']);
rich(svg, 703, 575, [{t:'V', i:true}, {t:'gs', sub:true}, ' = 1 V']);
rich(svg, 646, 366, [{t:'I', i:true}, {t:'ds', sub:true}, '–', {t:'V', i:true}, {t:'ds', sub:true}], {anchor:'middle'});
rich(svg, 441, 488, ['Drain current (mA)'], {anchor:'middle', rotate:true});
rich(svg, 647, XLAB_Y, ['Drain voltage (V)'], {anchor:'middle'});

// b3: off-state breakdown
const B3 = makePanel('b3', [910,375,1213,602], [4.964,9.02], [-0.0045,0.1045], false);
const bdA = [bdAct1, bdAct2, bdAct3], bdP = [bdPred1, bdPred2, bdPred3];
[0,1,2].forEach(k => {
  curve(B3, bdA[k], ACT[k], 5, DASH, d3.curveCatmullRom.alpha(0.5), 0.9);
  curve(B3, bdP[k], PRED[k], 1.6, null, d3.curveCatmullRom.alpha(0.5));
});
finishAxes(B3, {xt:[5,6,7,8,9], yt:[0,0.025,0.05,0.075,0.1], xf:fi, yf:v => v === 0 ? '0' : d3.format('.3f')(v), xpad:9, ypad:7});
rich(svg, 1061, 365, ['Off-state breakdown ', {t:'I', i:true}, {t:'ds', sub:true}, '–', {t:'V', i:true}, {t:'ds', sub:true}], {anchor:'middle'});
rich(svg, 841, 488, ['Drain current (mA)'], {anchor:'middle', rotate:true});
rich(svg, 1061, XLAB_Y, ['Drain voltage (V)'], {anchor:'middle'});
</script>
</body></html>
